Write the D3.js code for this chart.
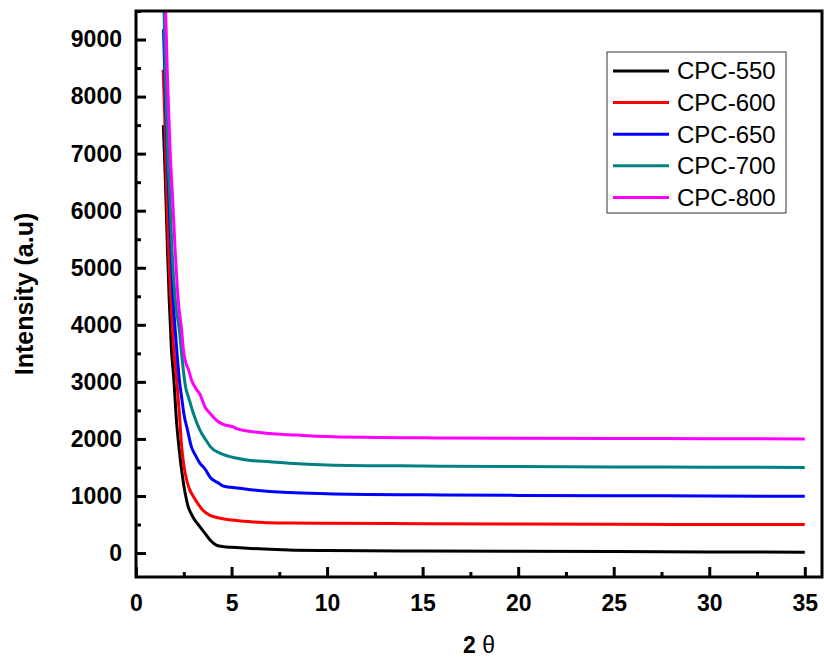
<!DOCTYPE html>
<html>
<head>
<meta charset="utf-8">
<script src="https://cdn.jsdelivr.net/npm/d3@7"></script>
<style>
  body { margin: 0; background: #fff; }
  svg { display: block; font-family: Arial, "Liberation Sans", sans-serif; }
  .tick text { font-weight: bold; font-size: 23px; fill: #000; }
  .tick line { stroke: #000; stroke-width: 3; }
</style>
</head>
<body>
<div id="chart"></div>
<script>
// series: [2θ, intensity]
const cpc550 = [[1.43,7500],[1.5,6900],[1.57,6180],[1.65,5300],[1.74,4430],[1.85,3600],[1.99,3000],
  [2.1,2400],[2.25,1850],[2.45,1300],[2.7,850],[3.0,620],[3.3,480],[3.6,350],[3.9,220],[4.2,140],
  [4.6,110],[5,100],[6,80],[7,65],[8,55],[10,45],[15,35],[20,30],[25,25],[30,20],[35,15]];
const cpc600 = [[1.42,8470],[1.5,7700],[1.62,6180],[1.72,5200],[1.83,4430],[1.95,3700],[2.13,3030],
  [2.27,2450],[2.39,1860],[2.5,1550],[2.65,1280],[2.8,1120],[3.0,990],[3.25,860],[3.5,750],
  [3.85,665],[4.4,610],[5,580],[6,550],[7,530],[8,525],[10,520],[15,515],[20,510],[25,505],[30,500],[35,500]];
const cpc650 = [[1.44,9180],[1.5,8500],[1.6,7300],[1.73,6180],[1.85,5200],[1.95,4430],[2.1,3700],
  [2.27,3030],[2.4,2700],[2.5,2450],[2.7,2150],[2.9,1860],[3.1,1720],[3.35,1571],[3.6,1480],
  [3.9,1320],[4.3,1230],[4.6,1170],[5.3,1140],[6,1110],[7,1080],[8,1060],[10,1040],[15,1020],
  [20,1010],[25,1005],[30,1000],[35,995]];
const cpc700 = [[1.42,10100],[1.47,9450],[1.55,8300],[1.65,7100],[1.78,6180],[1.9,5200],[2.06,4430],
  [2.27,3900],[2.44,3320],[2.6,2900],[2.74,2740],[3.0,2450],[3.35,2150],[3.7,1960],[3.9,1860],
  [4.4,1750],[5.3,1660],[5.8,1630],[7,1600],[8,1575],[10,1545],[15,1525],[20,1515],[25,1510],
  [30,1505],[35,1500]];
const cpc800 = [[1.45,11000],[1.55,9490],[1.65,8300],[1.78,7100],[1.92,6180],[2.05,5300],[2.21,4430],
  [2.39,3900],[2.48,3560],[2.62,3320],[2.74,3220],[2.91,3030],[3.1,2900],[3.35,2780],[3.61,2560],
  [3.87,2450],[4.31,2300],[4.6,2250],[5.08,2210],[5.27,2180],[6,2130],[7,2096],[8,2075],[10.3,2037],
  [15,2020],[20,2012],[25,2008],[30,2004],[35,2000]];

const seriesNames = ['CPC-550','CPC-600','CPC-650','CPC-700','CPC-800'];
const seriesData = [cpc550, cpc600, cpc650, cpc700, cpc800];
const seriesColors = ['#000000','#ff0000','#0000ff','#008080','#ff00ff'];

const xTicks = [0,5,10,15,20,25,30,35];
const xMinor = [2.5,7.5,12.5,17.5,22.5,27.5,32.5];
const yTicks = [0,1000,2000,3000,4000,5000,6000,7000,8000,9000];
const yMinor = [500,1500,2500,3500,4500,5500,6500,7500,8500,9500];

const width = 824, height = 660;
const margin = {top: 11, right: 2, bottom: 83, left: 136};
const iw = width - margin.left - margin.right,
      ih = height - margin.top - margin.bottom;

const svg = d3.select('#chart').append('svg')
  .attr('width', width).attr('height', height);
const g = svg.append('g').attr('transform', `translate(${margin.left},${margin.top})`);

const x = d3.scaleLinear([0, 35.9], [0, iw]);
const y = d3.scaleLinear([-420, 9500], [ih, 0]);

g.append('clipPath').attr('id', 'plotclip')
  .append('rect').attr('width', iw).attr('height', ih);

// axes (ticks pointing inward)
g.append('g').attr('transform', `translate(0,${ih})`)
  .call(d3.axisBottom(x).tickValues(xTicks).tickSize(-10).tickPadding(18).tickFormat(d3.format('d')));
g.append('g').attr('transform', `translate(0,${ih})`)
  .call(d3.axisBottom(x).tickValues(xMinor).tickSize(-5).tickFormat(''));
g.append('g')
  .call(d3.axisLeft(y).tickValues(yTicks).tickSize(-10).tickPadding(14).tickFormat(d3.format('d')));
g.append('g')
  .call(d3.axisLeft(y).tickValues(yMinor).tickSize(-5).tickFormat(''));
g.selectAll('.domain').remove();

// curves
const line = d3.line().x(d => x(d[0])).y(d => y(d[1])).curve(d3.curveMonotoneX);
g.append('g').attr('clip-path', 'url(#plotclip)')
  .selectAll('path.series')
  .data(seriesData)
  .join('path')
  .classed('series', true)
  .attr('d', line)
  .attr('fill', 'none')
  .attr('stroke', (d, i) => seriesColors[i])
  .attr('stroke-width', 3)
  .attr('stroke-linejoin', 'round');

// frame
g.append('rect').attr('width', iw).attr('height', ih)
  .attr('fill', 'none').attr('stroke', '#000').attr('stroke-width', 3);

// axis titles
svg.append('text')
  .attr('transform', `translate(33,${margin.top + ih / 2})rotate(-90)`)
  .attr('text-anchor', 'middle')
  .style('font-weight', 'bold').style('font-size', '25px')
  .text('Intensity (a.u)');
const xt = svg.append('text')
  .attr('x', margin.left + iw / 2).attr('y', 653)
  .attr('text-anchor', 'middle')
  .style('font-weight', 'bold').style('font-size', '23px');
xt.append('tspan').text('2 ');
xt.append('tspan').style('font-weight', 'normal').text('θ');

// legend
const lg = svg.append('g').attr('transform', 'translate(607,52)');
lg.append('rect').attr('width', 179).attr('height', 161)
  .attr('fill', '#fff').attr('stroke', '#333').attr('stroke-width', 1);
const items = lg.selectAll('g.item').data(seriesNames).join('g')
  .classed('item', true)
  .attr('transform', (d, i) => `translate(0,${19 + i * 31.6})`);
items.append('line').attr('x1', 6).attr('x2', 62)
  .attr('stroke', (d, i) => seriesColors[i]).attr('stroke-width', 3);
items.append('text').attr('x', 70).attr('dy', '0.35em')
  .style('font-size', '24px').text(d => d);
</script>
</body>
</html>
